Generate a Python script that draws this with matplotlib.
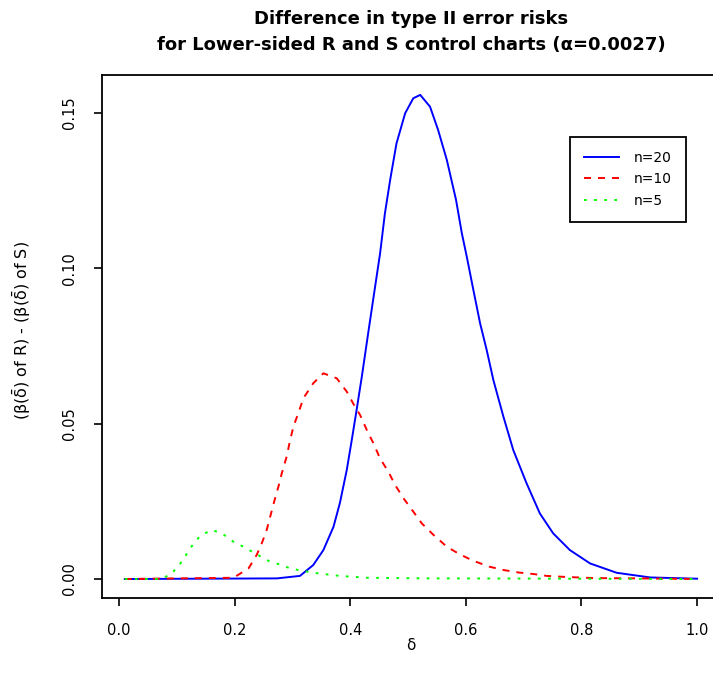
import matplotlib
matplotlib.use("Agg")
import matplotlib.pyplot as plt

plt.rcParams['font.family'] = ['DejaVu Sans']
plt.rcParams['mathtext.fontset'] = 'dejavusans'
plt.rcParams['mathtext.default'] = 'regular'

# values
delta_20 = [0.01, 0.273, 0.313, 0.336, 0.3535, 0.371, 0.382, 0.394, 0.4026, 0.411,
            0.420, 0.431, 0.443, 0.4516, 0.460, 0.469, 0.480, 0.495, 0.509, 0.521,
            0.538, 0.552, 0.567, 0.583, 0.593, 0.6016, 0.613, 0.6246, 0.636, 0.6476,
            0.665, 0.682, 0.705, 0.728, 0.751, 0.780, 0.815, 0.861, 0.919, 1.0]
diff_20 = [0.0, 0.0002, 0.001, 0.0045, 0.0093, 0.0168, 0.0244, 0.0351, 0.0447, 0.0544,
           0.0651, 0.0791, 0.0941, 0.1048, 0.1177, 0.1284, 0.1402, 0.1499, 0.1547, 0.1558,
           0.152, 0.1445, 0.1349, 0.122, 0.1113, 0.1037, 0.093, 0.0823, 0.0737, 0.064,
           0.0522, 0.0415, 0.0308, 0.0211, 0.0147, 0.0093, 0.005, 0.002, 0.0005, 0.0001]

delta_10 = [0.01, 0.198, 0.224, 0.238, 0.247, 0.2555, 0.263, 0.270, 0.2757, 0.2815,
            0.290, 0.296, 0.3016, 0.310, 0.319, 0.336, 0.3535, 0.3766, 0.394, 0.405,
            0.417, 0.4285, 0.440, 0.4516, 0.466, 0.4775, 0.492, 0.509, 0.5237, 0.544,
            0.567, 0.587, 0.611, 0.640, 0.665, 0.691, 0.717, 0.740, 0.769, 0.82, 0.896, 1.0]
diff_10 = [0.0, 0.0004, 0.0034, 0.0077, 0.0115, 0.0158, 0.0211, 0.026, 0.0297, 0.034,
           0.0394, 0.0447, 0.049, 0.0533, 0.0582, 0.063, 0.0662, 0.0646, 0.0603, 0.0565,
           0.0528, 0.048, 0.0437, 0.0388, 0.0345, 0.0303, 0.026, 0.0217, 0.0179, 0.0142,
           0.0104, 0.0082, 0.006, 0.004, 0.0029, 0.0021, 0.0016, 0.001, 0.0007, 0.0003, 0.0002, 0.0]

delta_5 = [0.01, 0.071, 0.088, 0.1026, 0.114, 0.126, 0.140, 0.160, 0.178, 0.198,
           0.215, 0.235, 0.261, 0.2815, 0.296, 0.336, 0.382, 0.4285, 0.543, 1.0]
diff_5 = [0.0, 0.0, 0.0013, 0.004, 0.0072, 0.0106, 0.0138, 0.0158, 0.0147, 0.012,
          0.0104, 0.0083, 0.0056, 0.0045, 0.0034, 0.002, 0.001, 0.0004, 0.0002, 0.0]

x_ticks = [0.0, 0.2, 0.4, 0.6, 0.8, 1.0]
y_ticks = [0.00, 0.05, 0.10, 0.15]

W, H = 713, 684
fig = plt.figure(figsize=(W / 100, H / 100), dpi=100)
ax = fig.add_axes([101.9 / W, 1 - 598.4 / H, (720 - 101.9) / W, (598.4 - 75) / H])

ax.plot(delta_20, diff_20, color='#0000FF', lw=1.4, label='n=20')
ax.plot(delta_10, diff_10, color='#FF0000', lw=1.4, dashes=(3.6, 3.6), label='n=10')
ax.plot(delta_5, diff_5, color='#00FF00', lw=1.4, dashes=(1.4, 3.8), label='n=5')

ax.set_xlim(-0.0296, 1.0396)
ax.set_ylim(-0.00624, 0.1622)
ax.set_xticks(x_ticks)
ax.set_xticklabels(['%.1f' % t for t in x_ticks])
ax.set_yticks(y_ticks)
ax.set_yticklabels(['%.2f' % t for t in y_ticks], rotation=90, va='center')
ax.tick_params(axis='both', length=6, width=1.2, labelsize=10.5, pad=12)
for s in ax.spines.values():
    s.set_linewidth(1.3)

leg = ax.legend(loc='upper left', bbox_to_anchor=(570 / W, 1 - 136.7 / H),
                bbox_transform=fig.transFigure, borderaxespad=0, fontsize=10,
                fancybox=False, edgecolor='black', framealpha=1,
                handlelength=2.5, handletextpad=1.1, borderpad=1.0, labelspacing=0.55)
leg.get_frame().set_linewidth(1.3)

fig.text(411 / W, 1 - 19 / H, 'Difference in type II error risks',
         ha='center', va='center', fontsize=13, fontweight='bold')
fig.text(411 / W, 1 - 45 / H, 'for Lower-sided R and S control charts (\u03b1=0.0027)',
         ha='center', va='center', fontsize=13, fontweight='bold')
fig.text(411 / W, 1 - 645 / H, '\u03b4', ha='center', va='center', fontsize=11)
fig.text(22 / W, 1 - 331 / H, r'($\beta(\bar{\delta})$ of R) - ($\beta(\bar{\delta})$ of S)',
         ha='center', va='center', rotation=90, fontsize=11.5)

fig.savefig('out.png', dpi=100)
